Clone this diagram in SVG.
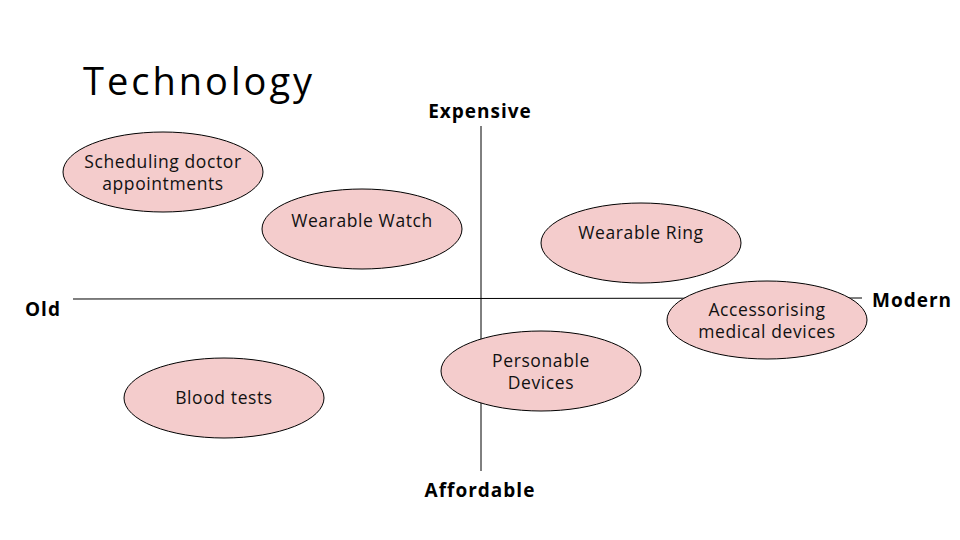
<svg xmlns="http://www.w3.org/2000/svg" width="960" height="540" viewBox="0 0 960 540">
<style>
.bub{fill:#f4cccc;stroke:#000;stroke-width:1}
.t{font-family:"Open Sans","Liberation Sans",sans-serif;font-size:17.5px;letter-spacing:0.6px;fill:#111;text-anchor:middle}
.ax{font-family:"Open Sans","Liberation Sans",sans-serif;font-size:19px;letter-spacing:1px;font-weight:bold;fill:#000}
.ln{stroke:#000;stroke-width:1;fill:none}
</style>
<rect width="960" height="540" fill="#fff"/>
<text x="83" y="95" font-family="'Open Sans','Liberation Sans',sans-serif" font-size="38" letter-spacing="3" fill="#000">Technology</text>
<g id="connectors">
<line class="ln" x1="73" y1="299" x2="862" y2="298"/>
<line class="ln" x1="481" y1="126" x2="481" y2="471"/>
</g>
<g id="axis-labels">
<text class="ax" x="480" y="118" text-anchor="middle">Expensive</text>
<text class="ax" x="480" y="497" text-anchor="middle">Affordable</text>
<text class="ax" x="25" y="316">Old</text>
<text class="ax" x="872" y="307">Modern</text>
</g>
<g id="n-scheduling">
<ellipse class="bub" cx="163" cy="172" rx="100" ry="40"/>
<text class="t" x="163" y="168">Scheduling doctor</text>
<text class="t" x="163" y="190">appointments</text>
</g>
<g id="n-watch">
<ellipse class="bub" cx="362" cy="229" rx="100" ry="40"/>
<text class="t" x="362" y="227">Wearable Watch</text>
</g>
<g id="n-ring">
<ellipse class="bub" cx="641" cy="243" rx="100" ry="40"/>
<text class="t" x="641" y="239">Wearable Ring</text>
</g>
<g id="n-accessorising">
<ellipse class="bub" cx="767" cy="320" rx="100" ry="39"/>
<text class="t" x="767" y="316">Accessorising</text>
<text class="t" x="767" y="338">medical devices</text>
</g>
<g id="n-personable">
<ellipse class="bub" cx="541" cy="371" rx="100" ry="40"/>
<text class="t" x="541" y="367">Personable</text>
<text class="t" x="541" y="389">Devices</text>
</g>
<g id="n-blood">
<ellipse class="bub" cx="224" cy="398" rx="100" ry="40"/>
<text class="t" x="224" y="404">Blood tests</text>
</g>
</svg>
